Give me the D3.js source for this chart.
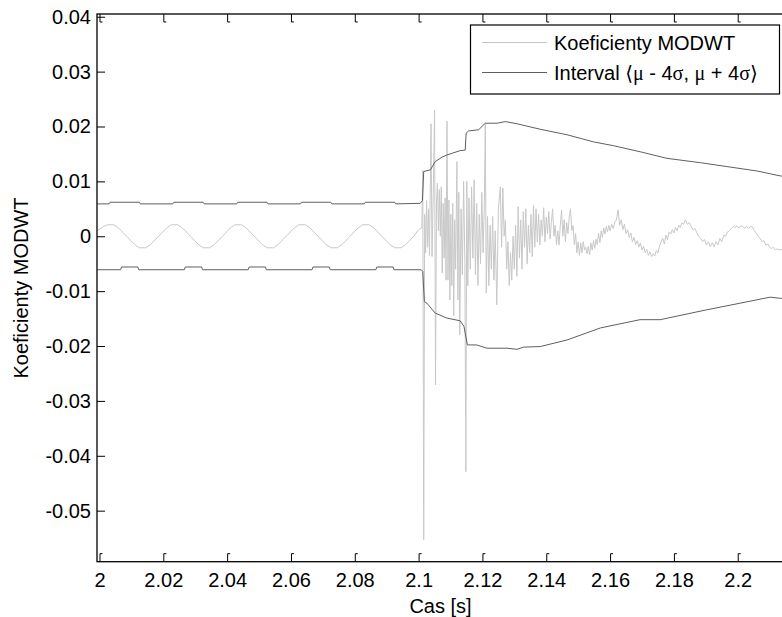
<!DOCTYPE html>
<html>
<head>
<meta charset="utf-8">
<script src="https://cdn.jsdelivr.net/npm/d3@7"></script>
<style>
  body { margin: 0; background: #fff; }
  svg { display: block; font-family: "Liberation Sans", Arial, sans-serif; }
</style>
</head>
<body>
<div id="chart"></div>
<script>
// tick positions / labels
var xTicks = [2, 2.02, 2.04, 2.06, 2.08, 2.1, 2.12, 2.14, 2.16, 2.18, 2.2];
var xTickLabels = ["2", "2.02", "2.04", "2.06", "2.08", "2.1", "2.12", "2.14", "2.16", "2.18", "2.2"];
var yTicks = [-0.05, -0.04, -0.03, -0.02, -0.01, 0, 0.01, 0.02, 0.03, 0.04];
var yTickLabels = ["-0.05", "-0.04", "-0.03", "-0.02", "-0.01", "0", "0.01", "0.02", "0.03", "0.04"];

// MODWT coefficients [time, value]
var modwt = [
  [1.9993, 0.0010], [2.0010, 0.0017], [2.0025, 0.0021], [2.0045, 0.0021], [2.0060, 0.0015], [2.0085, 0.0000],
  [2.0110, -0.0015], [2.0125, -0.0021], [2.0145, -0.0021], [2.0160, -0.0015], [2.0185, 0.0000],
  [2.0210, 0.0015], [2.0225, 0.0021], [2.0245, 0.0021], [2.0260, 0.0015], [2.0285, 0.0000],
  [2.0310, -0.0015], [2.0325, -0.0021], [2.0345, -0.0021], [2.0360, -0.0015], [2.0385, 0.0000],
  [2.0410, 0.0015], [2.0425, 0.0021], [2.0445, 0.0021], [2.0460, 0.0015], [2.0485, 0.0000],
  [2.0510, -0.0015], [2.0525, -0.0021], [2.0545, -0.0021], [2.0560, -0.0015], [2.0585, 0.0000],
  [2.0610, 0.0015], [2.0625, 0.0021], [2.0645, 0.0021], [2.0660, 0.0015], [2.0685, 0.0000],
  [2.0710, -0.0015], [2.0725, -0.0021], [2.0745, -0.0021], [2.0760, -0.0015], [2.0785, 0.0000],
  [2.0810, 0.0015], [2.0825, 0.0021], [2.0845, 0.0021], [2.0860, 0.0015], [2.0885, 0.0000],
  [2.0910, -0.0015], [2.0925, -0.0021], [2.0945, -0.0021], [2.0960, -0.0015], [2.0985, 0.0000],
  [2.1000, 0.0012], [2.1005, 0.0014], [2.1010, 0.0015], [2.1013, 0.0120], [2.1016, -0.0553], [2.1019, 0.0040],
  [2.1022, -0.0030], [2.1025, 0.0065], [2.1028, -0.0020], [2.1031, 0.0050], [2.1034, -0.0035], [2.1039, 0.0205],
  [2.1042, -0.0037], [2.1046, 0.0080], [2.1050, 0.0230], [2.1053, -0.0271], [2.1056, 0.0060], [2.1059, 0.0097],
  [2.1062, 0.0010], [2.1065, 0.0085], [2.1068, 0.0000], [2.1071, 0.0090], [2.1074, -0.0067], [2.1077, 0.0060],
  [2.1080, -0.0040], [2.1083, 0.0070], [2.1086, -0.0080], [2.1089, 0.0210], [2.1092, -0.0080], [2.1095, 0.0066],
  [2.1098, -0.0116], [2.1101, 0.0040], [2.1104, -0.0090], [2.1107, 0.0060], [2.1110, -0.0145], [2.1113, 0.0030],
  [2.1116, -0.0060], [2.1120, 0.0136], [2.1123, -0.0116], [2.1126, 0.0080], [2.1129, -0.0180], [2.1133, 0.0050],
  [2.1137, -0.0070], [2.1141, 0.0100], [2.1145, -0.0050], [2.1148, -0.0429], [2.1151, 0.0100], [2.1154, -0.0090],
  [2.1158, 0.0070], [2.1162, -0.0060], [2.1166, 0.0090], [2.1170, -0.0040], [2.1174, 0.0103], [2.1178, -0.0070],
  [2.1182, 0.0060], [2.1186, -0.0090], [2.1190, 0.0040], [2.1194, -0.0050], [2.1198, 0.0080], [2.1202, -0.0030],
  [2.1206, 0.0060], [2.1209, 0.0206], [2.1212, -0.0104], [2.1216, 0.0036], [2.1220, -0.0090], [2.1224, 0.0020],
  [2.1228, -0.0060], [2.1232, 0.0036], [2.1236, -0.0080], [2.1240, 0.0010], [2.1245, -0.0125], [2.1250, 0.0050],
  [2.1256, 0.0090], [2.1260, -0.0020], [2.1264, 0.0088], [2.1268, 0.0000], [2.1272, 0.0030], [2.1276, -0.0060],
  [2.1280, -0.0010], [2.1284, -0.0090], [2.1288, -0.0030], [2.1292, -0.0080], [2.1296, 0.0000], [2.1300, -0.0060],
  [2.1304, 0.0020], [2.1308, -0.0073], [2.1312, 0.0054], [2.1316, -0.0040], [2.1320, 0.0030], [2.1324, -0.0060],
  [2.1328, 0.0045], [2.1332, -0.0020], [2.1336, 0.0050], [2.1340, -0.0050], [2.1344, 0.0020], [2.1348, -0.0030],
  [2.1352, 0.0040], [2.1356, -0.0037], [2.1360, 0.0057], [2.1364, -0.0020], [2.1368, 0.0050], [2.1372, -0.0010],
  [2.1376, 0.0040], [2.1380, -0.0016], [2.1384, 0.0030], [2.1388, 0.0000], [2.1392, 0.0052], [2.1396, -0.0010],
  [2.1400, 0.0035], [2.1404, 0.0005], [2.1408, 0.0045], [2.1412, -0.0005], [2.1416, 0.0025], [2.1420, 0.0050],
  [2.1424, 0.0000], [2.1428, 0.0020], [2.1432, -0.0015], [2.1436, 0.0010], [2.1440, -0.0016], [2.1444, 0.0020],
  [2.1448, 0.0048], [2.1452, 0.0000], [2.1456, 0.0030], [2.1460, -0.0010], [2.1464, 0.0025], [2.1468, 0.0005],
  [2.1472, 0.0035], [2.1476, 0.0050], [2.1480, 0.0010], [2.1484, 0.0020], [2.1488, -0.0015], [2.1492, 0.0005],
  [2.1496, -0.0030], [2.1500, -0.0010], [2.1504, -0.0035], [2.1508, -0.0012], [2.1512, -0.0030], [2.1516, -0.0010],
  [2.1520, -0.0025], [2.1524, -0.0020], [2.1528, -0.0032], [2.1532, -0.0018], [2.1536, -0.0034], [2.1540, -0.0012],
  [2.1544, -0.0025], [2.1548, -0.0008], [2.1552, -0.0022], [2.1556, -0.0005], [2.1560, -0.0015], [2.1564, 0.0005],
  [2.1568, -0.0012], [2.1572, 0.0010], [2.1576, -0.0002], [2.1580, 0.0015], [2.1584, 0.0004], [2.1588, 0.0018],
  [2.1592, 0.0008], [2.1596, 0.0020], [2.1600, 0.0010], [2.1605, 0.0022], [2.1610, 0.0014], [2.1615, 0.0026],
  [2.1620, 0.0030], [2.1625, 0.0048], [2.1630, 0.0020], [2.1635, 0.0030], [2.1640, 0.0012], [2.1645, 0.0022],
  [2.1650, 0.0005], [2.1655, 0.0012], [2.1660, -0.0002], [2.1665, 0.0006], [2.1670, -0.0010], [2.1675, -0.0002],
  [2.1680, -0.0015], [2.1685, -0.0008], [2.1690, -0.0020], [2.1695, -0.0012], [2.1700, -0.0025], [2.1705, -0.0018],
  [2.1710, -0.0030], [2.1715, -0.0024], [2.1720, -0.0035], [2.1725, -0.0028], [2.1730, -0.0037], [2.1735, -0.0032],
  [2.1740, -0.0036], [2.1745, -0.0026], [2.1750, -0.0030], [2.1755, -0.0018], [2.1760, -0.0010], [2.1765, -0.0004],
  [2.1770, -0.0014], [2.1775, 0.0002], [2.1780, -0.0006], [2.1785, 0.0008], [2.1790, 0.0004], [2.1795, 0.0012],
  [2.1800, 0.0006], [2.1805, 0.0016], [2.1810, 0.0010], [2.1815, 0.0020], [2.1820, 0.0016], [2.1825, 0.0024],
  [2.1830, 0.0022], [2.1836, 0.0030], [2.1842, 0.0022], [2.1848, 0.0025], [2.1854, 0.0018], [2.1860, 0.0012],
  [2.1866, 0.0014], [2.1872, 0.0006], [2.1878, 0.0000], [2.1884, -0.0004], [2.1890, -0.0010], [2.1896, -0.0006],
  [2.1902, -0.0016], [2.1908, -0.0010], [2.1914, -0.0019], [2.1920, -0.0012], [2.1926, -0.0019], [2.1932, -0.0010],
  [2.1938, -0.0016], [2.1944, -0.0004], [2.1950, -0.0010], [2.1956, 0.0002], [2.1962, 0.0000], [2.1968, 0.0008],
  [2.1974, 0.0010], [2.1980, 0.0014], [2.1986, 0.0018], [2.1992, 0.0016], [2.1998, 0.0019], [2.2004, 0.0015],
  [2.2010, 0.0019], [2.2016, 0.0018], [2.2022, 0.0014], [2.2028, 0.0018], [2.2034, 0.0014], [2.2040, 0.0018],
  [2.2046, 0.0017], [2.2052, 0.0010], [2.2058, 0.0006], [2.2064, 0.0000], [2.2070, -0.0004], [2.2076, -0.0010],
  [2.2082, -0.0008], [2.2088, -0.0016], [2.2094, -0.0014], [2.2100, -0.0020], [2.2106, -0.0022], [2.2112, -0.0020],
  [2.2118, -0.0025], [2.2124, -0.0023], [2.2130, -0.0025], [2.2136, -0.0024], [2.2142, -0.0025], [2.2150, -0.0026]
];

// upper limit mu + 4 sigma
var upperBound = [
  [1.9993, 0.0059], [2.0030, 0.0059], [2.0033, 0.0062], [2.0125, 0.0062], [2.0128, 0.0059],
  [2.0230, 0.0059], [2.0233, 0.0062], [2.0325, 0.0062], [2.0328, 0.0059],
  [2.0430, 0.0059], [2.0433, 0.0062], [2.0525, 0.0062], [2.0528, 0.0059],
  [2.0630, 0.0059], [2.0633, 0.0062], [2.0725, 0.0062], [2.0728, 0.0059],
  [2.0830, 0.0059], [2.0833, 0.0062], [2.0925, 0.0062], [2.0928, 0.0059],
  [2.1005, 0.0060], [2.1012, 0.0065], [2.1016, 0.0118], [2.1037, 0.0121], [2.1052, 0.0136],
  [2.1073, 0.0144], [2.1088, 0.0148], [2.1130, 0.0156], [2.1146, 0.0157], [2.1149, 0.0188],
  [2.1157, 0.0192], [2.1188, 0.0194], [2.1209, 0.0206], [2.1246, 0.0206], [2.1272, 0.0209],
  [2.1308, 0.0205], [2.1381, 0.0195], [2.1465, 0.0185], [2.1548, 0.0172], [2.1611, 0.0165],
  [2.1694, 0.0154], [2.1778, 0.0142], [2.1884, 0.0134], [2.1966, 0.0127], [2.2060, 0.0119],
  [2.2133, 0.0110], [2.2150, 0.0109]
];

// lower limit mu - 4 sigma
var lowerBound = [
  [1.9993, -0.0061], [2.0066, -0.0061], [2.0069, -0.0056], [2.0120, -0.0056], [2.0123, -0.0061],
  [2.0266, -0.0061], [2.0269, -0.0056], [2.0320, -0.0056], [2.0323, -0.0061],
  [2.0466, -0.0061], [2.0469, -0.0056], [2.0520, -0.0056], [2.0523, -0.0061],
  [2.0666, -0.0061], [2.0669, -0.0056], [2.0720, -0.0056], [2.0723, -0.0061],
  [2.0866, -0.0061], [2.0869, -0.0056], [2.0920, -0.0056], [2.0923, -0.0061],
  [2.1008, -0.0061], [2.1013, -0.0064], [2.1018, -0.0119], [2.1026, -0.0122], [2.1052, -0.0140],
  [2.1088, -0.0149], [2.1130, -0.0154], [2.1142, -0.0164], [2.1153, -0.0198], [2.1182, -0.0198],
  [2.1214, -0.0204], [2.1277, -0.0204], [2.1308, -0.0206], [2.1329, -0.0202], [2.1381, -0.0201],
  [2.1465, -0.0189], [2.1570, -0.0167], [2.1694, -0.0152], [2.1757, -0.0152], [2.1903, -0.0134],
  [2.2007, -0.0122], [2.2101, -0.0111], [2.2133, -0.0113], [2.2150, -0.0113]
];

function drawChart() {
  var width = 782;
  var height = 617;
  // axes box (right edge lies just outside the window, as in the original)
  var boxLeft = 97, boxRight = 784, boxTop = 14, boxBottom = 561.7;

  var svg = d3.select("#chart").append("svg")
      .attr("width", width)
      .attr("height", height);

  var x = d3.scaleLinear().domain([1.99922, 2.2145]).range([boxLeft, boxRight]);
  var y = d3.scaleLinear().domain([-0.0593, 0.0405]).range([boxBottom, boxTop]);

  svg.append("defs").append("clipPath").attr("id", "plot-clip")
    .append("rect")
      .attr("x", boxLeft).attr("y", boxTop)
      .attr("width", boxRight - boxLeft).attr("height", boxBottom - boxTop);

  var line = d3.line()
      .x(function(d) { return x(d[0]); })
      .y(function(d) { return y(d[1]); });

  var plot = svg.append("g").attr("clip-path", "url(#plot-clip)");

  plot.append("path")
      .datum(modwt)
      .attr("fill", "none")
      .attr("stroke", "#c8c8c8")
      .attr("stroke-width", 1)
      .attr("d", line);

  [upperBound, lowerBound].forEach(function(b) {
    plot.append("path")
        .datum(b)
        .attr("fill", "none")
        .attr("stroke", "#5f5f5f")
        .attr("stroke-width", 1)
        .attr("d", line);
  });

  // axes, ticks point inward like matlab
  var tickLen = 8;

  var xAxis = svg.append("g")
      .attr("transform", "translate(0," + boxBottom + ")")
      .call(d3.axisBottom(x).tickValues(xTicks)
        .tickFormat(function(d, i) { return xTickLabels[i]; })
        .tickSize(-tickLen).tickPadding(11.5));

  var xAxisTop = svg.append("g")
      .attr("transform", "translate(0," + boxTop + ")")
      .call(d3.axisTop(x).tickValues(xTicks).tickFormat("").tickSize(-tickLen));

  var yAxis = svg.append("g")
      .attr("transform", "translate(" + boxLeft + ",0)")
      .call(d3.axisLeft(y).tickValues(yTicks)
        .tickFormat(function(d, i) { return yTickLabels[i]; })
        .tickSize(-tickLen).tickPadding(6));

  [xAxis, xAxisTop, yAxis].forEach(function(a) {
    a.select(".domain").remove();
    a.selectAll("line").attr("stroke", "#000").attr("stroke-width", 1);
    a.selectAll("text")
      .attr("fill", "#000")
      .style("font-size", "20px")
      .style("font-family", "'Liberation Sans', Arial, sans-serif");
  });

  // small hooks on the tick ends
  xAxis.selectAll(".tick").append("line")
      .attr("x1", 0).attr("x2", 2.5).attr("y1", -tickLen).attr("y2", -tickLen)
      .attr("stroke", "#000");
  xAxisTop.selectAll(".tick").append("line")
      .attr("x1", 0).attr("x2", 2.5).attr("y1", tickLen).attr("y2", tickLen)
      .attr("stroke", "#000");

  svg.append("rect")
      .attr("x", boxLeft).attr("y", boxTop)
      .attr("width", boxRight - boxLeft).attr("height", boxBottom - boxTop)
      .attr("fill", "none")
      .attr("stroke", "#000")
      .attr("stroke-width", 1.3);

  // axis titles
  svg.append("text")
      .attr("x", 440.5).attr("y", 613)
      .attr("text-anchor", "middle")
      .style("font-size", "20px")
      .text("Cas [s]");

  svg.append("text")
      .attr("transform", "translate(28,288) rotate(-90)")
      .attr("text-anchor", "middle")
      .style("font-size", "20px")
      .text("Koeficienty MODWT");

  // legend
  var legend = svg.append("g");
  legend.append("rect")
      .attr("x", 470.5).attr("y", 25)
      .attr("width", 309).attr("height", 69)
      .attr("fill", "#fff")
      .attr("stroke", "#000")
      .attr("stroke-width", 1.2);

  legend.append("line")
      .attr("x1", 482).attr("x2", 547).attr("y1", 42.5).attr("y2", 42.5)
      .attr("stroke", "#c8c8c8");
  legend.append("line")
      .attr("x1", 482).attr("x2", 547).attr("y1", 72.5).attr("y2", 72.5)
      .attr("stroke", "#5f5f5f");

  legend.append("text")
      .attr("x", 554).attr("y", 49.5)
      .style("font-size", "20px")
      .text("Koeficienty MODWT");

  var t2 = legend.append("text")
      .attr("x", 554).attr("y", 79.5)
      .style("font-size", "20px");
  var serif = "'Liberation Serif', 'DejaVu Serif', serif";
  t2.append("tspan").text("Interval ");
  t2.append("tspan").style("font-family", serif).text("\u27E8\u03BC");
  t2.append("tspan").text(" - 4");
  t2.append("tspan").style("font-family", serif).text("\u03C3");
  t2.append("tspan").text(", ");
  t2.append("tspan").style("font-family", serif).text("\u03BC");
  t2.append("tspan").text(" + 4");
  t2.append("tspan").style("font-family", serif).text("\u03C3\u27E9");
}

drawChart();
</script>
</body>
</html>
